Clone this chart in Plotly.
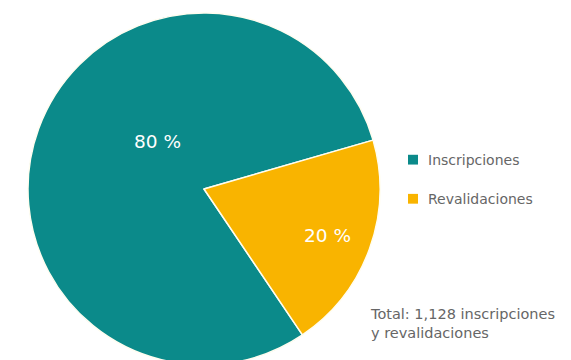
import plotly.graph_objects as go

categories = ["Inscripciones", "Revalidaciones"]
values = [902, 226]
colors = ["#0B8A8A", "#F9B400"]
total_text = "Total: 1,128 inscripciones<br>y revalidaciones"

W, H = 571, 360
OFF = 8  # page body margin
total = sum(values)
pcts = [f"{round(v / total * 100)} %" for v in values]


def px(x):
    return (x - OFF) / W


def py(y):
    return 1 - (y - OFF) / H


CX, R = 204 - OFF, 176
fig = go.Figure(go.Pie(
    labels=categories,
    values=values,
    sort=False,
    direction="clockwise",
    rotation=146,
    marker=dict(colors=colors, line=dict(color="#FFFDF0", width=1.5)),
    textinfo="none",
    hoverinfo="label+percent",
    showlegend=False,
    domain=dict(x=[(CX - R) / W, (CX + R) / W], y=[0, 1]),
))

font_family = "DejaVu Sans, sans-serif"
label_pos = [(157, 139), (327, 236)]
for (lx, ly), t in zip(label_pos, pcts):
    fig.add_annotation(x=px(lx), y=py(ly), xref="paper", yref="paper",
                       text=t, showarrow=False, xanchor="center", yanchor="middle",
                       font=dict(family=font_family, size=18.5, color="white"))

leg_y = [158, 198]
for ly, c, cat in zip(leg_y, colors, categories):
    fig.add_shape(type="rect", xref="paper", yref="paper",
                  x0=px(408), x1=px(418), y0=py(ly + 5), y1=py(ly - 5),
                  fillcolor=c, line=dict(width=0))
    fig.add_annotation(x=px(426), y=py(ly), xref="paper", yref="paper",
                       text=cat, showarrow=False, xanchor="left", yanchor="middle",
                       font=dict(family=font_family, size=14, color="#666666"))

fig.add_annotation(x=px(368), y=py(326), xref="paper", yref="paper",
                   text=total_text, showarrow=False, xanchor="left", yanchor="middle",
                   align="left",
                   font=dict(family=font_family, size=14.5, color="#666666"))

fig.update_layout(width=W, height=H, margin=dict(l=0, r=0, t=5, b=3),
                  paper_bgcolor="white", plot_bgcolor="white")

fig.write_html("out.html")
